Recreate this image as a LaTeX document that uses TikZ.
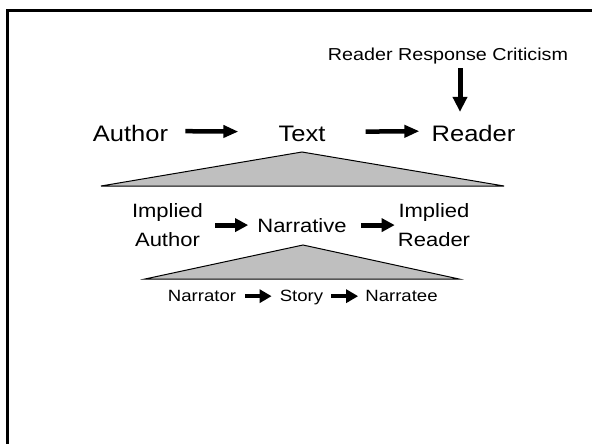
\documentclass[tikz,border=0pt]{standalone}
\usepackage{fontspec}
\setmainfont{Liberation Sans}[FakeStretch=1.14]
\usetikzlibrary{arrows.meta}
\definecolor{wedgegray}{RGB}{191,191,191}
\begin{document}
\begin{tikzpicture}[x=1pt,y=-1pt,
  word/.style={inner sep=0pt, anchor=base},
  bigword/.style={word, font=\fontsize{22.4}{27}\selectfont},
  smallword/.style={word, font=\fontsize{16.3}{20}\selectfont},
  notelabel/.style={word, font=\fontsize{17.3}{21}\selectfont},
  midword/.style={inner sep=0pt, font=\fontsize{19.3}{28.7}\selectfont},
  twoline/.style={midword, align=center},
  wedge/.style={draw=black, line width=1pt, fill=wedgegray, line join=miter},
  toparrow/.style={line width=4.5pt, -{Triangle[length=15pt,width=12pt]}},
  downarrow/.style={line width=5pt, -{Triangle[length=15pt,width=14pt]}},
  midarrow/.style={line width=5pt, -{Triangle[length=13pt,width=13pt]}},
  lowarrow/.style={line width=4pt, -{Triangle[length=12pt,width=13pt]}}
]
\clip (0,0) rectangle (592,444);

% slide frame (its right and bottom edges run off the page)
\draw[line width=3pt] (7.5,10.5) rectangle (640,480);

% wedges under "Text" and "Narrative"
\draw[wedge] (302,152) -- (504,186) -- (101,186) -- cycle;
\draw[wedge] (303,245) -- (459,279) -- (145,279) -- cycle;

% top level
\node[notelabel] (rrc) at (448,61) {Reader Response Criticism};
\node[bigword] (author) at (130.5,141) {Author};
\node[bigword] (text) at (302,141) {Text};
\node[bigword] (reader) at (473.5,141) {Reader};

\draw[downarrow] ([xshift=12pt,yshift=-3.4pt]rrc.south) -- ([xshift=-13.5pt,yshift=12.7pt]reader.north);
\draw[toparrow] ([xshift=17pt,yshift=1.8pt]author.east) -- ([xshift=-40pt,yshift=1.8pt]text.west);
\draw[toparrow] ([xshift=40pt,yshift=1.8pt]text.east) -- ([xshift=-12pt,yshift=1.8pt]reader.west);

% middle level
\node[twoline] (iauthor) at (167.5,225.3) {Implied\\Author};
\node[midword, anchor=base] (narrative) at (302,232) {Narrative};
\node[twoline] (ireader) at (434,225.3) {Implied\\Reader};

\draw[midarrow] ([xshift=12pt]iauthor.east |- narrative.west) -- ([xshift=-9pt]narrative.west);
\draw[midarrow] ([xshift=14pt]narrative.east) -- ([xshift=-3pt]ireader.west |- narrative.east);

% bottom level
\node[smallword] (narrator) at (202,301.7) {Narrator};
\node[smallword] (story) at (301.5,301.7) {Story};
\node[smallword] (narratee) at (401.5,301.7) {Narratee};

\draw[lowarrow] ([xshift=9pt]narrator.east) -- ([xshift=-8pt]story.west |- narrator.east);
\draw[lowarrow] ([xshift=8pt]story.east |- narrator.east) -- ([xshift=-7pt]narratee.west |- narrator.east);
\end{tikzpicture}
\end{document}
